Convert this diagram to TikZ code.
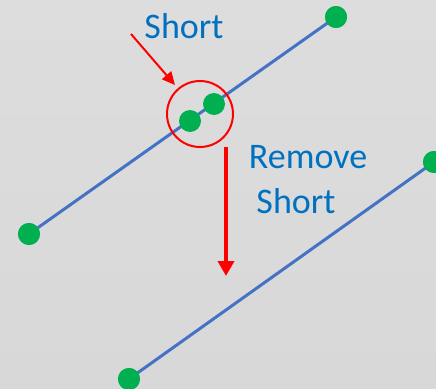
\documentclass[tikz,border=0pt]{standalone}
\usepackage{fontspec}
\setmainfont{Carlito}
\usetikzlibrary{arrows.meta}
\definecolor{bg}{HTML}{D8D8D8}
\definecolor{bgtop}{HTML}{DDDDDD}
\definecolor{wire}{HTML}{4472C4}
\definecolor{dotc}{HTML}{00B050}
\definecolor{txt}{HTML}{0070C0}
\definecolor{redc}{HTML}{FF0000}
\tikzset{
  dot/.style={circle,fill=dotc,inner sep=0pt,minimum size=22pt},
  wireline/.style={draw=wire,line width=3pt},
  lbl/.style={text=txt,font=\fontsize{36}{43}\selectfont,inner sep=0pt,anchor=base},
}
\begin{document}
\begin{tikzpicture}[x=1pt,y=-1pt]
\shade[top color=bgtop,bottom color=bg] (0,0) rectangle (436,388);
\useasboundingbox (0,0) rectangle (436,388);
% upper wire
\node[dot] (a1) at (29,234) {};
\node[dot] (a2) at (336,17) {};
\coordinate (s1) at (190,121);
\coordinate (s2) at (214,104);
\draw[wireline] (a1.center) -- (a2.center);
\node[dot] (p1) at (s1) {};
\node[dot] (p2) at (s2) {};
% lower wire
\node[dot] (b1) at (129,379) {};
\node[dot] (b2) at (434,162) {};
\draw[wireline] (b1.center) -- (b2.center);
\node[dot] at (b1) {};
\node[dot] at (b2) {};
\node[dot] at (a1) {};
\node[dot] at (a2) {};
% red circle
\node[circle,draw=redc,line width=2pt,minimum size=66pt,inner sep=0pt] (ring) at (200,114) {};
% labels
\node[lbl] (short) at (184,38) {Short};
\node[lbl] (remove) at (308,168) {Remove};
\node[lbl] (short2) at (296,213) {Short};
% arrows
\coordinate (t1) at (131,34);
\coordinate (h1) at (175,85);
\draw[redc,line width=2pt,-{Triangle[length=13pt,width=12pt]}] (t1) -- (h1);
\coordinate (t2) at (226,147);
\coordinate (h2) at (226,276);
\draw[redc,line width=4pt,-{Triangle[length=15pt,width=16pt]}] (t2) -- (h2);
\end{tikzpicture}
\end{document}
